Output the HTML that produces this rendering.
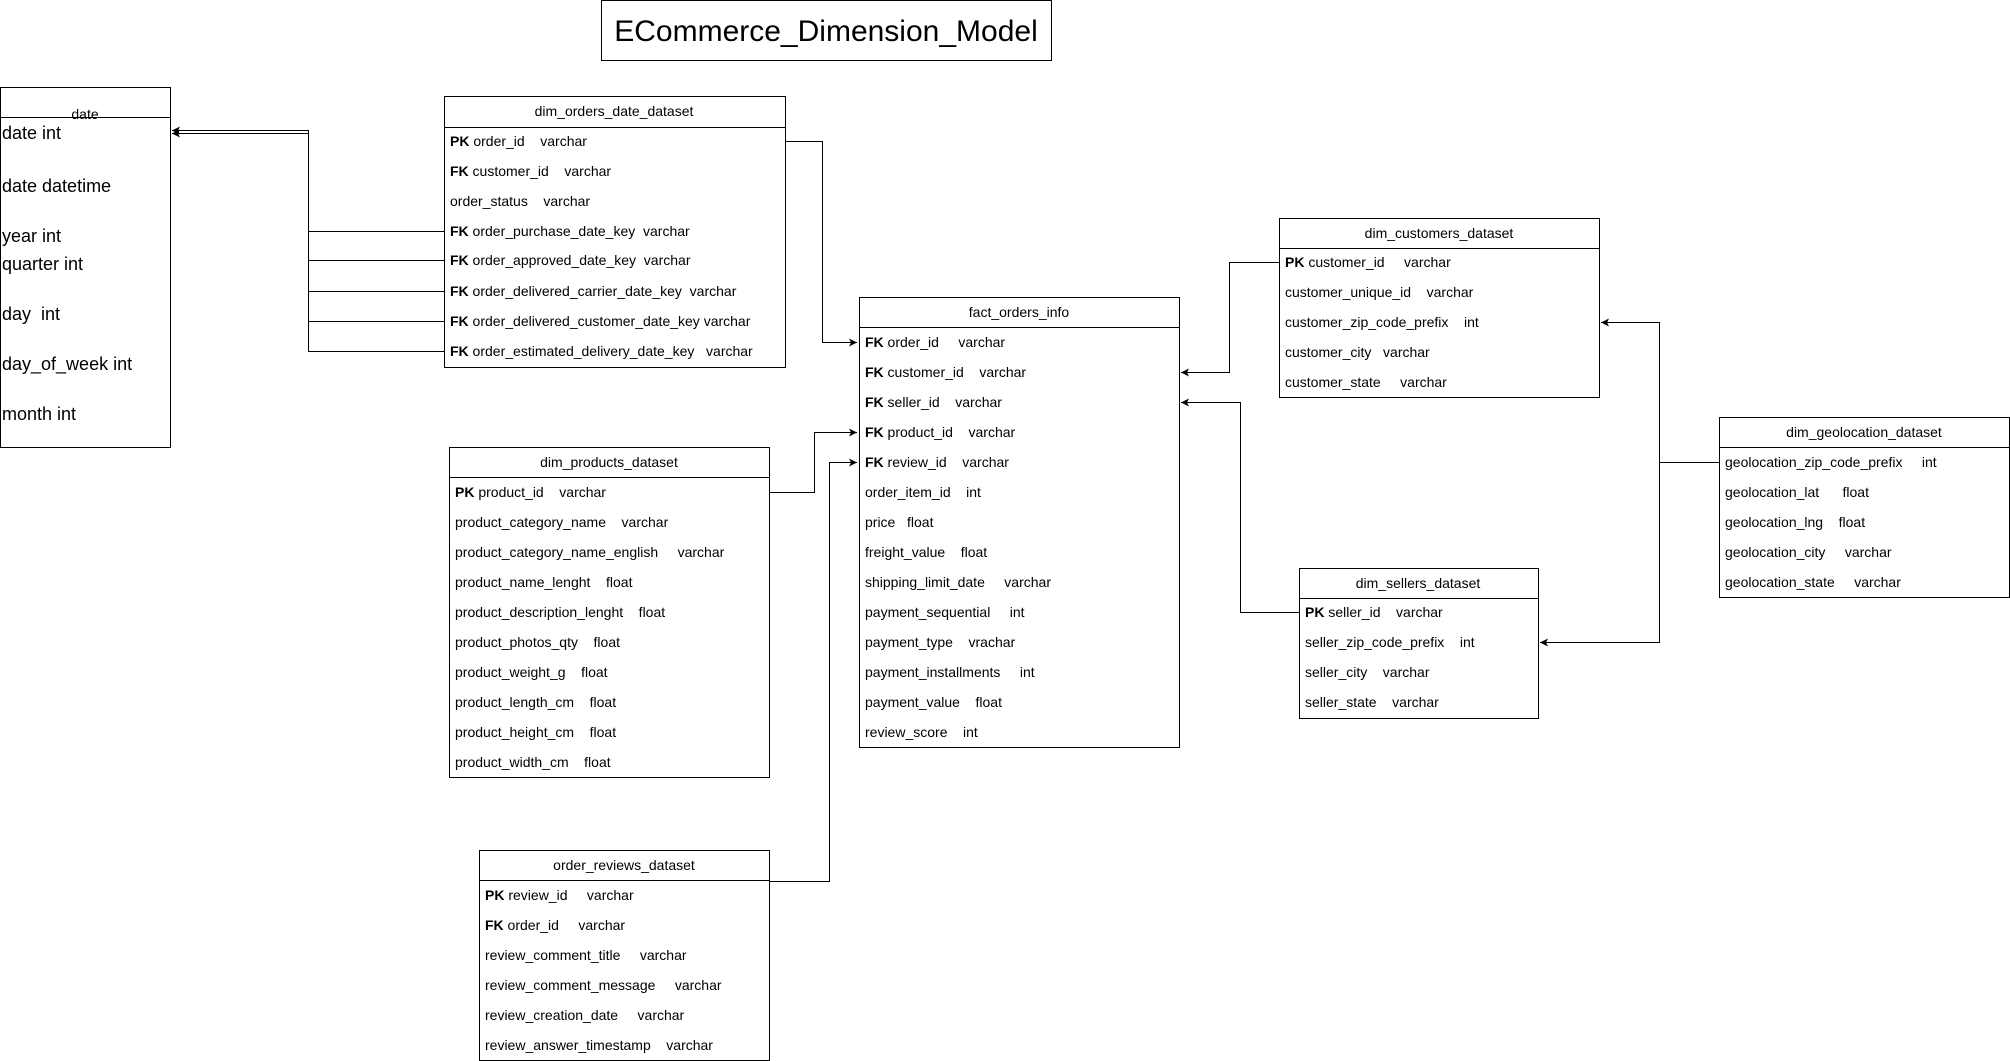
<!DOCTYPE html>
<html><head><meta charset="utf-8"><style>
html,body{margin:0;padding:0;background:#fff;}
svg{display:block;}
text{font-family:"Liberation Sans",Arial,sans-serif;fill:#000;white-space:pre;}
.r{font-size:14px;}
.h{font-size:14px;}
.d{font-size:18px;}
</style></head><body>
<svg width="2010" height="1061" viewBox="0 0 2010 1061" xmlns="http://www.w3.org/2000/svg">
<defs>
<marker id="a" markerWidth="10" markerHeight="10" refX="8" refY="5" orient="auto" markerUnits="userSpaceOnUse">
<path d="M0,1 L8,5 L0,9 L2,5 Z" fill="#000"/>
</marker>
</defs>
<g fill="none" stroke="#000" stroke-width="1">
<rect x="601.5" y="0.5" width="450" height="60"/>
<rect x="0.5" y="87.5" width="170" height="360"/>
<line x1="0" y1="117.5" x2="170" y2="117.5"/>
<rect x="444.5" y="96.5" width="341" height="271"/>
<line x1="444" y1="127.5" x2="785" y2="127.5"/>
<rect x="859.5" y="297.5" width="320" height="450"/>
<line x1="859" y1="327.5" x2="1179" y2="327.5"/>
<rect x="449.5" y="447.5" width="320" height="330"/>
<line x1="449" y1="477.5" x2="769" y2="477.5"/>
<rect x="479.5" y="850.5" width="290" height="210"/>
<line x1="479" y1="880.5" x2="769" y2="880.5"/>
<rect x="1279.5" y="218.5" width="320" height="179"/>
<line x1="1279" y1="248.5" x2="1599" y2="248.5"/>
<rect x="1299.5" y="568.5" width="239" height="150"/>
<line x1="1299" y1="598.5" x2="1538" y2="598.5"/>
<rect x="1719.5" y="417.5" width="290" height="180"/>
<line x1="1719" y1="447.5" x2="2009" y2="447.5"/>

<path d="M444,231.5 H308.5 M444,260.5 H308.5 M444,291.5 H308.5 M444,321.5 H308.5 M444,351.5 H308.5 V130.5 H172" marker-end="url(#a)"/>
<path d="M308.5,231.5 V133.5 H172" marker-end="url(#a)"/>
<path d="M785,141.5 H822.5 V342.5 H857" marker-end="url(#a)"/>
<path d="M769,492.5 H814.5 V432.5 H857" marker-end="url(#a)"/>
<path d="M769,881.5 H829.5 V462.5 H857" marker-end="url(#a)"/>
<path d="M1279,262.5 H1229.5 V372.5 H1181" marker-end="url(#a)"/>
<path d="M1299,612.5 H1240.5 V402.5 H1181" marker-end="url(#a)"/>
<path d="M1719,462.5 H1659.5 M1659.5,462.5 V322.5 H1601" marker-end="url(#a)"/>
<path d="M1659.5,462.5 V642.5 H1540" marker-end="url(#a)"/>
</g>

<text x="826" y="41" font-size="30" text-anchor="middle">ECommerce_Dimension_Model</text>

<text x="85" y="119" text-anchor="middle" font-size="14">date</text>
<text class="d" x="2" y="139">date int</text>
<text class="d" x="2" y="192">date datetime</text>
<text class="d" x="2" y="242">year int</text>
<text class="d" x="2" y="270">quarter int</text>
<text class="d" x="2" y="320">day  int</text>
<text class="d" x="2" y="370">day_of_week int</text>
<text class="d" x="2" y="420">month int</text>

<g text-anchor="middle">
<text class="h" x="614" y="116">dim_orders_date_dataset</text>
<text class="h" x="1019" y="317">fact_orders_info</text>
<text class="h" x="609" y="467">dim_products_dataset</text>
<text class="h" x="624" y="870">order_reviews_dataset</text>
<text class="h" x="1439" y="238">dim_customers_dataset</text>
<text class="h" x="1418" y="588">dim_sellers_dataset</text>
<text class="h" x="1864" y="437">dim_geolocation_dataset</text>
</g>

<g>
<text class="r" x="450" y="146"><tspan font-weight="bold">PK</tspan> order_id    varchar</text>
<text class="r" x="450" y="176"><tspan font-weight="bold">FK</tspan> customer_id    varchar</text>
<text class="r" x="450" y="206">order_status    varchar</text>
<text class="r" x="450" y="236"><tspan font-weight="bold">FK</tspan> order_purchase_date_key  varchar</text>
<text class="r" x="450" y="265"><tspan font-weight="bold">FK</tspan> order_approved_date_key  varchar</text>
<text class="r" x="450" y="296"><tspan font-weight="bold">FK</tspan> order_delivered_carrier_date_key  varchar</text>
<text class="r" x="450" y="326"><tspan font-weight="bold">FK</tspan> order_delivered_customer_date_key varchar</text>
<text class="r" x="450" y="356"><tspan font-weight="bold">FK</tspan> order_estimated_delivery_date_key   varchar</text>

<text class="r" x="865" y="347"><tspan font-weight="bold">FK</tspan> order_id     varchar</text>
<text class="r" x="865" y="377"><tspan font-weight="bold">FK</tspan> customer_id    varchar</text>
<text class="r" x="865" y="407"><tspan font-weight="bold">FK</tspan> seller_id    varchar</text>
<text class="r" x="865" y="437"><tspan font-weight="bold">FK</tspan> product_id    varchar</text>
<text class="r" x="865" y="467"><tspan font-weight="bold">FK</tspan> review_id    varchar</text>
<text class="r" x="865" y="497">order_item_id    int</text>
<text class="r" x="865" y="527">price   float</text>
<text class="r" x="865" y="557">freight_value    float</text>
<text class="r" x="865" y="587">shipping_limit_date     varchar</text>
<text class="r" x="865" y="617">payment_sequential     int</text>
<text class="r" x="865" y="647">payment_type    vrachar</text>
<text class="r" x="865" y="677">payment_installments     int</text>
<text class="r" x="865" y="707">payment_value    float</text>
<text class="r" x="865" y="737">review_score    int</text>

<text class="r" x="455" y="497"><tspan font-weight="bold">PK</tspan> product_id    varchar</text>
<text class="r" x="455" y="527">product_category_name    varchar</text>
<text class="r" x="455" y="557">product_category_name_english     varchar</text>
<text class="r" x="455" y="587">product_name_lenght    float</text>
<text class="r" x="455" y="617">product_description_lenght    float</text>
<text class="r" x="455" y="647">product_photos_qty    float</text>
<text class="r" x="455" y="677">product_weight_g    float</text>
<text class="r" x="455" y="707">product_length_cm    float</text>
<text class="r" x="455" y="737">product_height_cm    float</text>
<text class="r" x="455" y="767">product_width_cm    float</text>

<text class="r" x="485" y="900"><tspan font-weight="bold">PK</tspan> review_id     varchar</text>
<text class="r" x="485" y="930"><tspan font-weight="bold">FK</tspan> order_id     varchar</text>
<text class="r" x="485" y="960">review_comment_title     varchar</text>
<text class="r" x="485" y="990">review_comment_message     varchar</text>
<text class="r" x="485" y="1020">review_creation_date     varchar</text>
<text class="r" x="485" y="1050">review_answer_timestamp    varchar</text>

<text class="r" x="1285" y="267"><tspan font-weight="bold">PK</tspan> customer_id     varchar</text>
<text class="r" x="1285" y="297">customer_unique_id    varchar</text>
<text class="r" x="1285" y="327">customer_zip_code_prefix    int</text>
<text class="r" x="1285" y="357">customer_city   varchar</text>
<text class="r" x="1285" y="387">customer_state     varchar</text>

<text class="r" x="1305" y="617"><tspan font-weight="bold">PK</tspan> seller_id    varchar</text>
<text class="r" x="1305" y="647">seller_zip_code_prefix    int</text>
<text class="r" x="1305" y="677">seller_city    varchar</text>
<text class="r" x="1305" y="707">seller_state    varchar</text>

<text class="r" x="1725" y="467">geolocation_zip_code_prefix     int</text>
<text class="r" x="1725" y="497">geolocation_lat      float</text>
<text class="r" x="1725" y="527">geolocation_lng    float</text>
<text class="r" x="1725" y="557">geolocation_city     varchar</text>
<text class="r" x="1725" y="587">geolocation_state     varchar</text>
</g>
</svg>
</body></html>
